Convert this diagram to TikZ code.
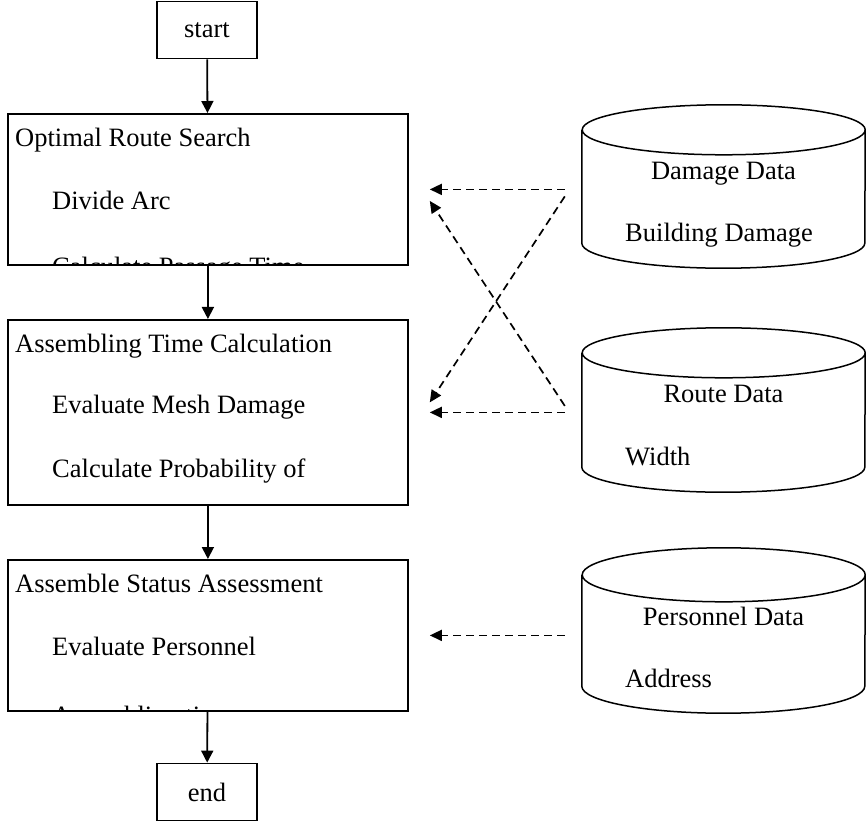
\documentclass[tikz,border=0pt]{standalone}
\usepackage{fontspec}
\setmainfont{Liberation Serif}
\usetikzlibrary{arrows.meta}
\newcommand{\chartfont}{\fontsize{26.5}{30}\selectfont}

\begin{document}
\begin{tikzpicture}[x=1pt,y=1pt,
every node/.style={font=\chartfont, inner sep=0pt},
termbox/.style={draw, line width=1.8pt, minimum width=100pt, minimum height=57pt},
flowbox/.style={draw, line width=1.8pt, anchor=north west, minimum width=400pt},
storebody/.style={minimum width=283pt},
flow/.style={line width=1.8pt, -{Triangle[length=12pt,width=12pt]}},
dataflow/.style={line width=1.7pt, dash pattern=on 8pt off 5pt, -{Triangle[length=12pt,width=11pt]}}]
\useasboundingbox (0,0) rectangle (866,823);

% start / end
\node[termbox] (start) at (207,793) {start};
\node[termbox] (end) at (207,31) {end};

% process boxes, lines running past the bottom edge are cut off
\node[flowbox, minimum height=151pt] (search) at (7,710) {};
\node[flowbox, minimum height=185pt] (assem) at (7,504) {};
\node[flowbox, minimum height=151pt] (status) at (7,264) {};

\begin{scope}
\clip (search.south west) rectangle (search.north east);
\node[anchor=base west] (search-1) at (15,676) {Optimal Route Search};
\node[anchor=base west] (search-2) at (52,613) {Divide Arc};
\node[anchor=base west] (search-3) at (52,547) {Calculate Passage Time};
\end{scope}

\begin{scope}
\clip (assem.south west) rectangle (assem.north east);
\node[anchor=base west] (assem-1) at (15,471) {Assembling Time Calculation};
\node[anchor=base west] (assem-2) at (52,410) {Evaluate Mesh Damage};
\node[anchor=base west] (assem-3) at (52,346) {Calculate Probability of};
\end{scope}

\begin{scope}
\clip (status.south west) rectangle (status.north east);
\node[anchor=base west] (status-1) at (15,231) {Assemble Status Assessment};
\node[anchor=base west] (status-2) at (52,168) {Evaluate Personnel};
\node[anchor=base west] (status-3) at (52,99) {Assembling time};
\end{scope}

% main flow
\draw[flow] (start) -- (search);
\draw[flow] (search) -- (assem);
\draw[flow] (assem) -- (status);
\draw[flow] (status) -- (end);

% data stores (body node spans between the two ellipse centres)
\node[storebody, minimum height=113pt] (dmg) at (723.5,636.5) {};
\node[storebody, minimum height=114pt] (route) at (723.5,413) {};
\node[storebody, minimum height=111pt] (staff) at (723.5,192.5) {};
\foreach \s/\ry in {dmg/25, route/25, staff/27}{
	\draw[line width=1.5pt] (\s.north west) -- (\s.south west)
		arc[start angle=180, end angle=360, x radius=141.5pt, y radius=\ry pt]
		-- (\s.north east)
		arc[start angle=0, end angle=180, x radius=141.5pt, y radius=\ry pt]
		arc[start angle=180, end angle=360, x radius=141.5pt, y radius=\ry pt];
}

\node[anchor=base] (dmg-1) at (723.5,643) {Damage Data};
\node[anchor=base west] (dmg-2) at (625,581) {Building Damage};
\node[anchor=base] (route-1) at (723.5,421) {Route Data};
\node[anchor=base west] (route-2) at (625,358) {Width};
\node[anchor=base] (staff-1) at (723.5,198) {Personnel Data};
\node[anchor=base west] (staff-2) at (625,136) {Address};

% ports for the data arrows
\coordinate (search-in) at ([xshift=21pt]search.east);
\coordinate (assem-in) at ([xshift=21pt]assem.east);
\coordinate (status-in) at ([xshift=21pt]status.east);
\path (search-in) -- ++(135,0) coordinate (dmg-out);
\path (assem-in) -- ++(135,0) coordinate (route-out);
\path (status-in) -- ++(135,0) coordinate (staff-out);

% data flow
\draw[dataflow] (dmg-out) -- (search-in);
\draw[dataflow] ([yshift=-7pt]dmg-out) -- ([yshift=10pt]assem-in);
\draw[dataflow] ([yshift=6.5pt]route-out) -- ([yshift=-11.5pt]search-in);
\draw[dataflow] (route-out) -- (assem-in);
\draw[dataflow] (staff-out) -- (status-in);
\end{tikzpicture}
\end{document}
